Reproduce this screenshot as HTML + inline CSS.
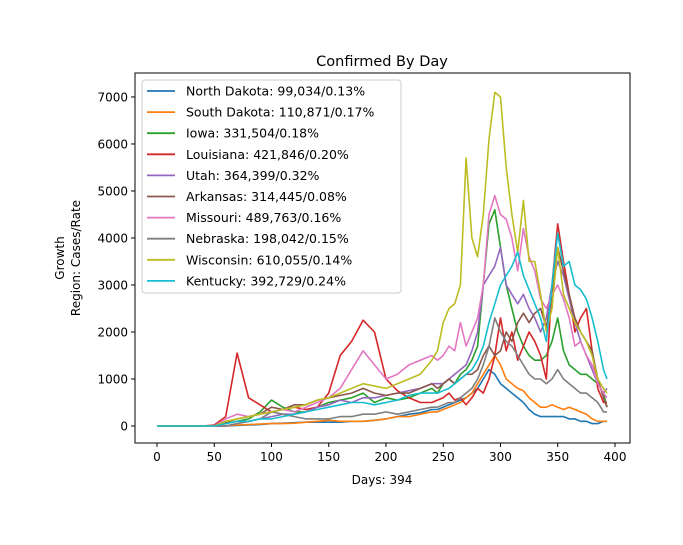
<!DOCTYPE html>
<html><head><meta charset="utf-8"><style>
body{margin:0;background:#fff;}
svg text{font-family:"DejaVu Sans","Liberation Sans",sans-serif;fill:#000;}
</style></head><body>
<svg id="chart" width="683" height="540" xmlns="http://www.w3.org/2000/svg"></svg>
<script>
const days=[0,10,20,30,40,50,60,70,80,90,100,110,120,130,140,150,160,170,180,190,200,210,220,230,240,245,250,255,260,265,270,275,280,285,290,295,300,305,310,315,320,325,330,335,340,345,350,355,360,365,370,375,380,385,390,393];
const seriesNames=["North Dakota: 99,034/0.13%","South Dakota: 110,871/0.17%","Iowa: 331,504/0.18%","Louisiana: 421,846/0.20%","Utah: 364,399/0.32%","Arkansas: 314,445/0.08%","Missouri: 489,763/0.16%","Nebraska: 198,042/0.15%","Wisconsin: 610,055/0.14%","Kentucky: 392,729/0.24%"];
const colors=["#1f77b4","#ff7f0e","#2ca02c","#d62728","#9467bd","#8c564b","#e377c2","#7f7f7f","#bcbd22","#17becf"];
const northDakota=[0,0,0,0,0,0,0,10,20,30,50,60,70,80,80,80,80,100,100,120,150,200,250,280,350,350,400,450,500,550,600,700,800,1000,1200,1100,900,800,700,600,500,350,250,200,200,200,200,200,150,150,100,100,50,50,100,100];
const southDakota=[0,0,0,0,0,0,0,20,30,40,50,50,60,80,100,120,100,100,100,120,150,200,200,250,300,300,350,400,450,500,600,700,900,1100,1300,1500,1300,1000,900,800,750,600,500,400,400,450,400,350,400,350,300,250,150,100,100,100];
const iowa=[0,0,0,0,0,0,50,100,150,300,550,400,300,300,400,500,550,600,700,500,600,550,600,700,800,700,900,1000,900,1100,1200,1400,1700,3000,4300,4600,3800,3000,2500,2000,1700,1500,1400,1400,1500,1800,2300,1600,1300,1200,1100,1100,1000,900,700,400];
const louisiana=[0,0,0,0,0,20,200,1550,600,450,300,350,400,350,400,700,1500,1800,2250,2000,1000,750,600,500,500,550,600,700,550,600,450,600,800,700,1000,1500,2300,1600,2000,1400,1700,2000,1800,1500,1000,3000,4300,3500,2800,2000,2300,2500,1600,800,500,500];
const utah=[0,0,0,0,0,0,0,50,100,150,200,250,250,300,400,450,550,500,600,600,650,700,750,800,900,900,900,1000,1100,1200,1300,1600,2000,3000,3200,3400,3800,3000,2800,2600,2800,2500,2300,2000,2300,3000,3500,3200,2700,2200,1800,1500,1200,900,700,800];
const arkansas=[0,0,0,0,0,0,80,150,200,250,400,350,450,450,550,600,650,700,800,700,650,700,700,800,900,800,900,1000,900,1000,1100,1100,1200,1500,1700,1500,1600,2000,1800,2200,2400,2200,2400,2500,2100,2800,3800,3300,2800,2300,2000,1800,1600,1000,600,400];
const missouri=[0,0,0,0,0,0,150,250,200,250,300,350,300,400,500,600,800,1200,1600,1300,1000,1100,1300,1400,1500,1400,1500,1700,1600,2200,1700,2000,2300,3000,4500,4900,4500,4400,4000,3300,4200,3600,3300,2700,2500,2800,3000,2700,2300,1700,1800,1500,1300,900,700,600];
const nebraska=[0,0,0,0,0,0,0,50,100,150,300,250,200,150,150,150,200,200,250,250,300,250,300,350,400,400,450,500,500,600,700,800,1000,1300,1700,2300,2000,1800,1700,1500,1300,1100,1000,1000,900,1000,1200,1000,900,800,700,700,600,500,300,300];
const wisconsin=[0,0,0,0,0,0,100,150,200,250,300,350,400,450,550,600,700,800,900,850,800,900,1000,1100,1400,1600,2200,2500,2600,3000,5700,4000,3600,4500,6100,7100,7000,5500,4500,3700,4800,3500,3500,2800,2000,2500,3800,2800,2500,2200,2000,1800,1500,1000,800,700];
const kentucky=[0,0,0,0,0,0,50,100,100,150,150,200,250,300,350,400,450,500,500,450,500,550,650,700,700,700,750,800,900,1000,1100,1200,1400,1700,2200,2600,3000,3200,3400,3700,3200,2900,2600,2300,1800,3000,4100,3400,3500,3000,2900,2700,2300,1800,1200,1000];
const allSeries=[northDakota,southDakota,iowa,louisiana,utah,arkansas,missouri,nebraska,wisconsin,kentucky];
const xTicks=[0,50,100,150,200,250,300,350,400];
const yTicks=[0,1000,2000,3000,4000,5000,6000,7000];

const NS="http://www.w3.org/2000/svg";
const svg=document.getElementById('chart');
const L=135,T=73,R=630,B=443;
const xMin=-19.2,xMax=413.1,yMin=-362,yMax=7510;
function xs(d){return L+(d-xMin)/(xMax-xMin)*(R-L);}
function ys(v){return B-(v-yMin)/(yMax-yMin)*(B-T);}
function mk(tag,attrs,parent){const e=document.createElementNS(NS,tag);for(const k in attrs)e.setAttribute(k,attrs[k]);(parent||svg).appendChild(e);return e;}

const title=mk('text',{x:382,y:66,'text-anchor':'middle','font-size':14.5});
title.textContent='Confirmed By Day';



const plot=mk('g',{});


allSeries.forEach((s,i)=>{
  const pts=s.map((v,j)=>xs(days[j]).toFixed(1)+','+ys(v).toFixed(1)).join(' ');
  const pl=mk('polyline',{points:pts,fill:'none',stroke:colors[i],'stroke-width':1.6,'stroke-linejoin':'round'},plot);
  
  
});

const frame=mk('rect',{x:L,y:T,width:R-L,height:B-T,fill:'none',stroke:'#000','stroke-width':1});



xTicks.forEach(t=>{
  const x=xs(t);
  mk('line',{x1:x,x2:x,y1:B,y2:B+4,stroke:'#000'});
  const tx=mk('text',{x:x,y:B+18,'text-anchor':'middle','font-size':12});
  tx.textContent=t;
  
  
});
yTicks.forEach(t=>{
  const y=ys(t);
  mk('line',{x1:L-4,x2:L,y1:y,y2:y,stroke:'#000'});
  const tx=mk('text',{x:L-7,y:y+4.5,'text-anchor':'end','font-size':12});
  tx.textContent=t;
  
  
});
const xl=mk('text',{x:382,y:484,'text-anchor':'middle','font-size':12});
xl.textContent='Days: 394';


const yl=mk('text',{transform:'translate(64,258) rotate(-90)','text-anchor':'middle','font-size':12});
yl.textContent='Growth';


const yl2=mk('text',{transform:'translate(80,258) rotate(-90)','text-anchor':'middle','font-size':12});
yl2.textContent='Region: Cases/Rate';



const lg=mk('g',{});


mk('rect',{x:142,y:80,width:259,height:213,rx:3,fill:'#fff','fill-opacity':0.8,stroke:'#ccc'},lg);
seriesNames.forEach((n,i)=>{
  const y=91+i*21.1;
  const g=mk('g',{},lg);
  
  
  mk('line',{x1:147,x2:175,y1:y,y2:y,stroke:colors[i],'stroke-width':1.8},g);
  const t=mk('text',{x:186,y:y+4.5,'font-size':12.5},g);
  t.textContent=n;
});
</script>
</body></html>
